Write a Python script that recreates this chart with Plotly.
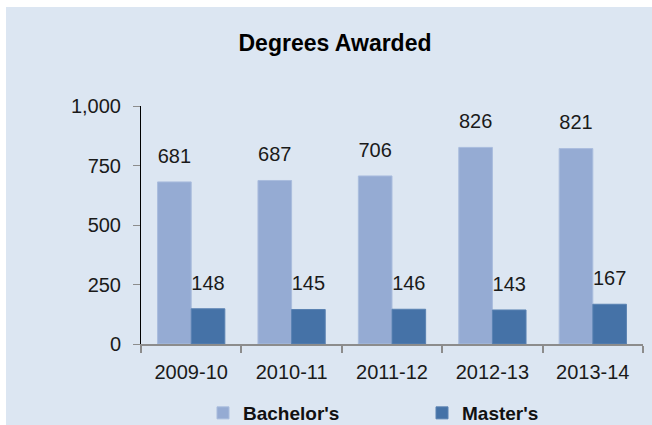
import plotly.graph_objects as go

categories = ["2009-10", "2010-11", "2011-12", "2012-13", "2013-14"]
bachelors = [681, 687, 706, 826, 821]
masters = [148, 145, 146, 143, 167]
series_names = ["Bachelor's", "Master's"]
y_ticks = [0, 250, 500, 750, 1000]
y_tick_labels = ["0", "250", "500", "750", "1,000"]

BG = "#dce6f2"
FONT = "Liberation Sans, Arial, sans-serif"
TXT = "#1a1a1a"
C_BACH = "#95abd3"
C_MAST = "#4572a7"

W, H = 652, 425
L, R, T, B = 141, 9, 106, 81
pw, ph = W - L - R, H - T - B


def px_to_paper_x(px):
    return (px - L) / pw


def px_to_paper_y(py):
    return (H - B - py) / ph


fig = go.Figure()
fig.add_trace(go.Bar(
    x=categories, y=bachelors, name=series_names[0], offsetgroup="b",
    marker=dict(color=C_BACH, line=dict(color="#a9bcdd", width=1)),
    legend="legend",
))
fig.add_trace(go.Bar(
    x=categories, y=masters, name=series_names[1], offsetgroup="m",
    marker=dict(color=C_MAST, line=dict(color="#5a82b2", width=1)),
    legend="legend2",
))
# value labels, aligned with the grouped bars
fig.add_trace(go.Scatter(
    x=categories, y=bachelors, offsetgroup="b", mode="markers+text",
    text=[str(v) for v in bachelors], textposition="top center",
    marker=dict(size=21, color="rgba(0,0,0,0)"),
    textfont=dict(size=20, color=TXT, family=FONT),
    showlegend=False, hoverinfo="skip", cliponaxis=False,
))
fig.add_trace(go.Scatter(
    x=categories, y=masters, offsetgroup="m", mode="markers+text",
    text=[str(v) for v in masters], textposition="top center",
    marker=dict(size=21, color="rgba(0,0,0,0)"),
    textfont=dict(size=20, color=TXT, family=FONT),
    showlegend=False, hoverinfo="skip", cliponaxis=False,
))

legend_common = dict(
    orientation="h", xanchor="left", yanchor="middle",
    font=dict(family=FONT, size=19, color="#111111", weight="bold"),
    bgcolor="rgba(0,0,0,0)", itemwidth=30,
)

fig.update_layout(
    width=W, height=H,
    margin=dict(l=L, r=R, t=T, b=B, pad=0, autoexpand=False),
    paper_bgcolor="white",
    plot_bgcolor=BG,
    barmode="group", bargap=0.33, bargroupgap=0,
    scattermode="group", scattergap=0.33,
    font=dict(family=FONT, size=20, color=TXT),
    title=dict(text="<b>Degrees Awarded</b>", x=335 / W, xanchor="center",
               xref="container", y=1 - 43 / H, yanchor="middle",
               font=dict(family=FONT, size=23, color="black")),
    showlegend=True,
    legend=dict(x=px_to_paper_x(203), y=px_to_paper_y(413), **legend_common),
    legend2=dict(x=px_to_paper_x(422), y=px_to_paper_y(413), **legend_common),
    shapes=[dict(type="rect", xref="paper", yref="paper", layer="below",
                 x0=px_to_paper_x(6), x1=px_to_paper_x(W + 2),
                 y0=px_to_paper_y(H + 2), y1=px_to_paper_y(7),
                 fillcolor=BG, line=dict(width=0))],
)

fig.update_xaxes(
    type="category", automargin=False,
    showline=True, linecolor="#8c8c8c", linewidth=2,
    ticks="outside", ticklen=7, tickwidth=2, tickcolor="#8c8c8c",
    tickson="boundaries", showgrid=False, ticklabelstandoff=9,
    tickfont=dict(family=FONT, size=20, color=TXT),
)
fig.update_yaxes(
    range=[0, 1000], tickvals=y_ticks, ticktext=y_tick_labels,
    automargin=False,
    showline=True, linecolor="black", linewidth=1,
    ticks="outside", ticklen=7, tickwidth=1, tickcolor="#8c8c8c",
    showgrid=False, zeroline=False, ticklabelstandoff=8,
    tickfont=dict(family=FONT, size=20, color=TXT),
)

fig.write_html("out.html", config={"displayModeBar": False},
               post_script="document.body.style.margin='0';")
